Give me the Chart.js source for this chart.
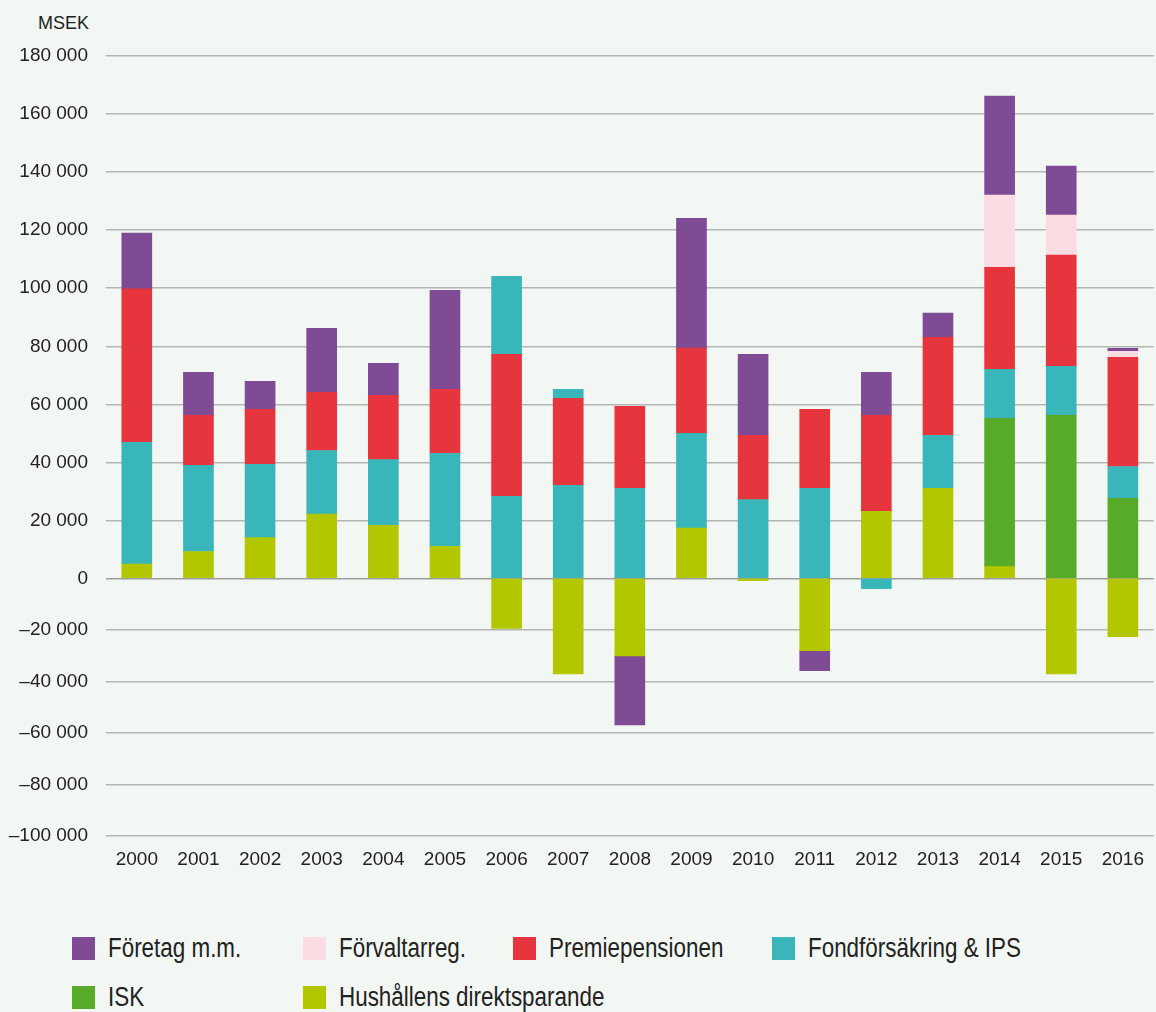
<!DOCTYPE html>
<html lang="sv">
<head>
<meta charset="utf-8">
<title>Nettoflöde till fonder per sparargrupp</title>
<script src="https://cdn.jsdelivr.net/npm/chart.js@4.4.1/dist/chart.umd.min.js"></script>
<style>
  html, body { margin: 0; padding: 0; background: #f3f7f3; }
  body { width: 1156px; height: 1012px; position: relative; overflow: hidden; font-family: "Liberation Sans", Arial, sans-serif; color: #222; }
  #wrap { position: absolute; left: 0; top: 0; width: 1156px; height: 893px; }
  #unit { position: absolute; left: 0; width: 89px; text-align: right; top: 13px; font-size: 18px; }
  .item { position: absolute; height: 27px; line-height: 27px; font-family: "Liberation Sans", Arial, sans-serif; font-size: 27px; white-space: nowrap; }
  .item .box { position: absolute; left: 0; top: 2px; width: 23px; height: 23px; }
  .item .txt { position: absolute; left: 36px; top: 0; transform: scaleX(0.83); transform-origin: left center; }
</style>
</head>
<body>
<div id="unit">MSEK</div>
<div id="wrap"><canvas id="flowChart"></canvas></div>
<div id="legend"></div>
<script>
const years = ['2000', '2001', '2002', '2003', '2004', '2005', '2006', '2007', '2008',
  '2009', '2010', '2011', '2012', '2013', '2014', '2015', '2016'];
const yTicks = [-100000, -80000, -60000, -40000, -20000, 0, 20000, 40000, 60000,
  80000, 100000, 120000, 140000, 160000, 180000];

// nettoflöden i MSEK, avlästa per år
const hushall = [5000, 9300, 14100, 22200, 18300, 11100, -19400, -37000, -30000, 17400, -800, -28000, 23100, 31100, 4100, -37000, -22600];
const isk = [0, 0, 0, 0, 0, 0, 0, 0, 0, 0, 0, 0, 0, 0, 51100, 56200, 27600];
const fondforsakring = [41900, 29700, 25200, 21900, 22700, 32000, 28300, 32100, 31100, 32600, 27200, 31100, -3900, 18200, 16900, 16900, 11000];
const premiepension = [52900, 17200, 19000, 20000, 22100, 22100, 48900, 30000, 28200, 29400, 22100, 27200, 33100, 33800, 35100, 38300, 37600];
// turkos del ovanpå premiepensionen 2006-2007
const fondforsakringOvre = [0, 0, 0, 0, 0, 0, 26900, 3100, 0, 0, 0, 0, 0, 0, 0, 0, 0];
const forvaltarreg = [0, 0, 0, 0, 0, 0, 0, 0, 0, 0, 0, 0, 0, 0, 24900, 13800, 2100];
const foretag = [19200, 14800, 9600, 22100, 11000, 34100, 0, 0, -26800, 44700, 27900, -7800, 14800, 8300, 34100, 16900, 1000];

const colors = {
  foretag: '#7e4b94',
  forvaltarreg: '#fbdce2',
  premie: '#e6353c',
  fond: '#39b6ba',
  isk: '#58aa29',
  hushall: '#b3c700'
};

// staplingsordning nerifrån och upp
const series = [
  { label: 'Hushållens direktsparande', data: hushall, color: colors.hushall },
  { label: 'ISK', data: isk, color: colors.isk },
  { label: 'Fondförsäkring & IPS', data: fondforsakring, color: colors.fond },
  { label: 'Premiepensionen', data: premiepension, color: colors.premie },
  { label: 'Fondförsäkring & IPS', data: fondforsakringOvre, color: colors.fond },
  { label: 'Förvaltarreg.', data: forvaltarreg, color: colors.forvaltarreg },
  { label: 'Företag m.m.', data: foretag, color: colors.foretag }
];

// positiva och negativa delar på var sin axel (skalan är olika ovan och under noll)
const datasets = [];
series.forEach(s => {
  datasets.push({ label: s.label, data: s.data.map(v => v > 0 ? v : null), backgroundColor: s.color, yAxisID: 'yPos', stack: 'a', barThickness: 30 });
  datasets.push({ label: s.label, data: s.data.map(v => v < 0 ? v : null), backgroundColor: s.color, yAxisID: 'yNeg', stack: 'a', barThickness: 30 });
});

const fmt = v => (v < 0 ? '\u2013' : '') + String(Math.abs(v)).replace(/\B(?=(\d{3})+(?!\d))/g, ' ');
const tickFont = { family: 'Liberation Sans', size: 19 };
const gridColor = ctx => (ctx.tick && ctx.tick.value === 0) ? '#9c9e9b' : '#b4b6b3';

const yCommon = {
  type: 'linear',
  position: 'left',
  stack: 'v',
  stacked: true,
  afterFit: s => { s.width = 106; },
  ticks: { padding: 18, color: '#222', font: tickFont, callback: v => fmt(v) },
  grid: { color: gridColor, lineWidth: 1.5, drawTicks: false },
  border: { display: false }
};

new Chart(document.getElementById('flowChart').getContext('2d'), {
  type: 'bar',
  data: { labels: years, datasets: datasets },
  options: {
    responsive: true,
    maintainAspectRatio: false,
    animation: false,
    layout: { padding: { top: 56, bottom: 10, left: 0, right: 0 } },
    plugins: { legend: { display: false }, tooltip: { enabled: false } },
    scales: {
      x: {
        type: 'category',
        stacked: true,
        grid: { display: false, drawTicks: false },
        border: { display: false },
        ticks: { padding: 12, color: '#222', font: tickFont, maxRotation: 0, autoSkip: false }
      },
      yPos: Object.assign({}, yCommon, {
        weight: 1,
        stackWeight: 521.7,
        min: 0,
        max: 180000,
        afterBuildTicks: s => { s.ticks = yTicks.filter(v => v >= 0).map(v => ({ value: v })); }
      }),
      yNeg: Object.assign({}, yCommon, {
        weight: 0,
        stackWeight: 257.3,
        min: -100000,
        max: 0,
        afterBuildTicks: s => { s.ticks = yTicks.filter(v => v < 0).map(v => ({ value: v })); }
      })
    }
  }
});

// förklaring i två rader
const legendItems = [
  { label: 'Företag m.m.', color: colors.foretag },
  { label: 'Förvaltarreg.', color: colors.forvaltarreg },
  { label: 'Premiepensionen', color: colors.premie },
  { label: 'Fondförsäkring & IPS', color: colors.fond },
  { label: 'ISK', color: colors.isk },
  { label: 'Hushållens direktsparande', color: colors.hushall }
];
const cols = [72, 303, 513, 772];
const rows = [935, 984];
const legend = document.getElementById('legend');
legendItems.forEach((it, i) => {
  const d = document.createElement('div');
  d.className = 'item';
  d.style.left = cols[i % 4] + 'px';
  d.style.top = rows[Math.floor(i / 4)] + 'px';
  d.innerHTML = '<span class="box" style="background:' + it.color + '"></span><span class="txt"></span>';
  d.querySelector('.txt').textContent = it.label;
  legend.appendChild(d);
});
</script>
</body>
</html>
